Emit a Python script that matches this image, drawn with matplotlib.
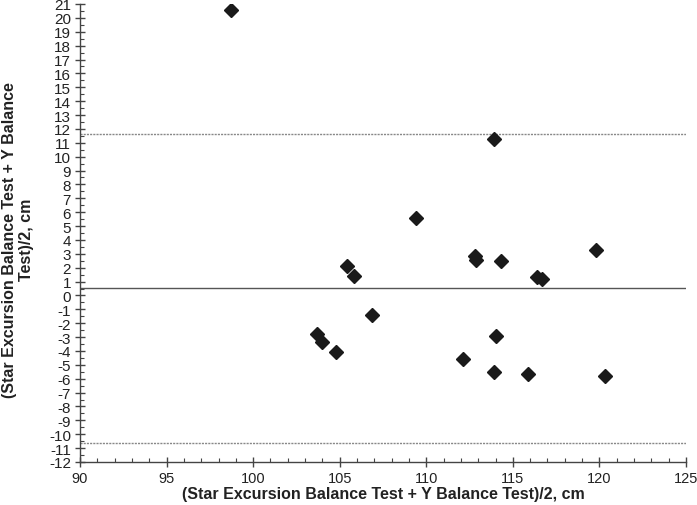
import matplotlib
matplotlib.use("Agg")
import matplotlib.pyplot as plt
from matplotlib.ticker import MultipleLocator

plt.rcParams['font.family'] = ['Liberation Sans', 'DejaVu Sans']
plt.rcParams['axes.unicode_minus'] = False

# Data: mean of two tests (x) and difference (y)
mean_vals = [98.7, 113.9, 109.4, 105.4, 105.8, 112.8, 112.9, 114.3, 116.4, 116.7,
             119.8, 106.85, 103.7, 104.0, 104.8, 114.0, 112.1, 113.9, 115.9, 120.3]
diff_vals = [20.6, 11.3, 5.55, 2.14, 1.42, 2.82, 2.55, 2.5, 1.30, 1.18,
             3.27, -1.43, -2.76, -3.33, -4.08, -2.93, -4.56, -5.54, -5.64, -5.83]
bias = 0.55
upper_loa = 11.65
lower_loa = -10.6

x_range = (90, 125)
y_range = (-12, 21)

fig = plt.figure(figsize=(6.97, 5.06), dpi=100)
ax = fig.add_axes([80/697, 43/506, 606/697, 458/506])

ax.axhline(bias, color='#555555', lw=1.0, zorder=1)
ax.axhline(upper_loa, color='#888888', lw=1.0, ls=(0, (1.5, 0.8)), zorder=1)
ax.axhline(lower_loa, color='#888888', lw=1.0, ls=(0, (1.5, 0.8)), zorder=1)

ax.plot(mean_vals, diff_vals, ls='none', marker='D', markersize=7.5,
        color='#1a1a1a', zorder=3)

ax.set_xlim(*x_range)
ax.set_ylim(*y_range)
ax.xaxis.set_major_locator(MultipleLocator(5))
ax.xaxis.set_minor_locator(MultipleLocator(1))
ax.yaxis.set_major_locator(MultipleLocator(1))
ax.yaxis.set_minor_locator(MultipleLocator(0.5))

for s in ['top', 'right']:
    ax.spines[s].set_visible(False)
for s in ['left', 'bottom']:
    ax.spines[s].set_color('#444444')
    ax.spines[s].set_linewidth(1.0)

ax.tick_params(axis='both', which='major', direction='inout', length=7, width=1.0,
               color='#444444', labelcolor='#222222', pad=3)
ax.tick_params(axis='y', which='major', labelsize=11)
ax.tick_params(axis='x', which='major', labelsize=10.5)
ax.tick_params(axis='both', which='minor', direction='in', length=3, width=0.8,
               color='#444444')

ax.set_xlabel('(Star Excursion Balance Test + Y Balance Test)/2, cm',
              fontsize=11.5, fontweight='bold', color='#222222', labelpad=1)
fig.text(18/697, 1 - 240/506, '(Star Excursion Balance Test + Y Balance\nTest)/2, cm',
         rotation=90, ha='center', va='center', multialignment='center',
         fontsize=11.5, fontweight='bold', color='#222222', linespacing=1.15)

fig.savefig('out.png', dpi=100)
